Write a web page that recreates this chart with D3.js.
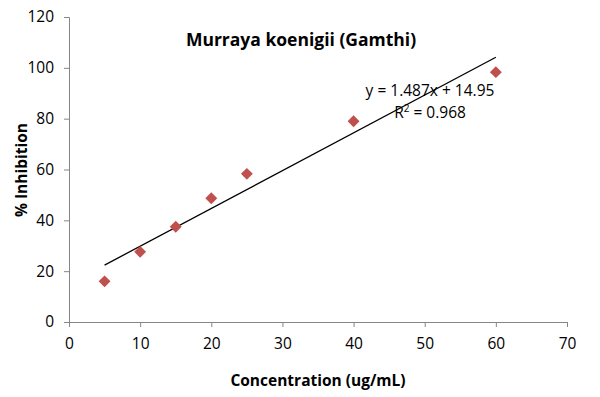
<!DOCTYPE html>
<html>
<head>
<meta charset="utf-8">
<script src="https://cdn.jsdelivr.net/npm/d3@7"></script>
<style>
  body { margin: 0; background: #fff; }
  text { font-family: "Open Sans", "Noto Sans", sans-serif; fill: #000; }
</style>
</head>
<body>
<div id="chart"></div>
<script>
// data
var concentration = [5, 10, 15, 20, 25, 40, 60];
var inhibition = [16, 27.6, 37.5, 48.7, 58.3, 79, 98.3];
var xTicks = [0, 10, 20, 30, 40, 50, 60, 70];
var yTicks = [0, 20, 40, 60, 80, 100, 120];
var trendSlope = 1.487;
var trendIntercept = 14.95;

var width = 600, height = 397;
var margin = {top: 17, right: 33, bottom: 75, left: 69};

var svg = d3.select('#chart').append('svg')
    .attr('width', width)
    .attr('height', height);

var x = d3.scaleLinear().domain([0, 70]).range([margin.left, width - margin.right]);
var y = d3.scaleLinear().domain([0, 120]).range([height - margin.bottom, margin.top]);

// axes
var xAxis = svg.append('g')
    .attr('transform', 'translate(0,' + y(0) + ')')
    .call(d3.axisBottom(x).tickValues(xTicks).tickSize(5).tickPadding(11));
var yAxis = svg.append('g')
    .attr('transform', 'translate(' + x(0) + ',0)')
    .call(d3.axisLeft(y).tickValues(yTicks).tickSize(5).tickPadding(10));

[xAxis, yAxis].forEach(function(a) {
    a.select('.domain').attr('stroke', '#868686');
    a.selectAll('.tick line').attr('stroke', '#868686');
    a.selectAll('.tick text').style('font-size', '15.5px').attr('fill', '#000');
});

// trendline from first to last x
var xr = d3.extent(concentration);
svg.append('line')
    .attr('x1', x(xr[0])).attr('y1', y(trendSlope * xr[0] + trendIntercept))
    .attr('x2', x(xr[1])).attr('y2', y(trendSlope * xr[1] + trendIntercept))
    .attr('stroke', '#000')
    .attr('stroke-width', 1.3);

// markers
var diamond = d3.symbol().type(d3.symbolDiamond2).size(90);
svg.selectAll('.pt').data(concentration)
    .enter().append('path')
    .attr('class', 'pt')
    .attr('d', diamond)
    .attr('transform', function(d, i) { return 'translate(' + x(d) + ',' + y(inhibition[i]) + ')'; })
    .attr('fill', '#C0504D');

// title
svg.append('text')
    .attr('x', 301).attr('y', 46)
    .attr('text-anchor', 'middle')
    .style('font-size', '17.5px').style('font-weight', 'bold')
    .text('Murraya koenigii (Gamthi)');

// equation
svg.append('text')
    .attr('x', 430).attr('y', 96)
    .attr('text-anchor', 'middle')
    .style('font-size', '15.5px')
    .text('y = 1.487x + 14.95');
var r2 = svg.append('text')
    .attr('x', 430).attr('y', 118)
    .attr('text-anchor', 'middle')
    .style('font-size', '15.5px');
r2.append('tspan').text('R');
r2.append('tspan').attr('dy', -6).style('font-size', '10px').text('2');
r2.append('tspan').attr('dy', 6).text(' = 0.968');

// axis titles
svg.append('text')
    .attr('x', 318).attr('y', 386)
    .attr('text-anchor', 'middle')
    .style('font-size', '15.5px').style('font-weight', 'bold')
    .text('Concentration (ug/mL)');
svg.append('text')
    .attr('transform', 'translate(27,170) rotate(-90)')
    .attr('text-anchor', 'middle')
    .style('font-size', '15.5px').style('font-weight', 'bold')
    .text('% Inhibition');
</script>
</body>
</html>
